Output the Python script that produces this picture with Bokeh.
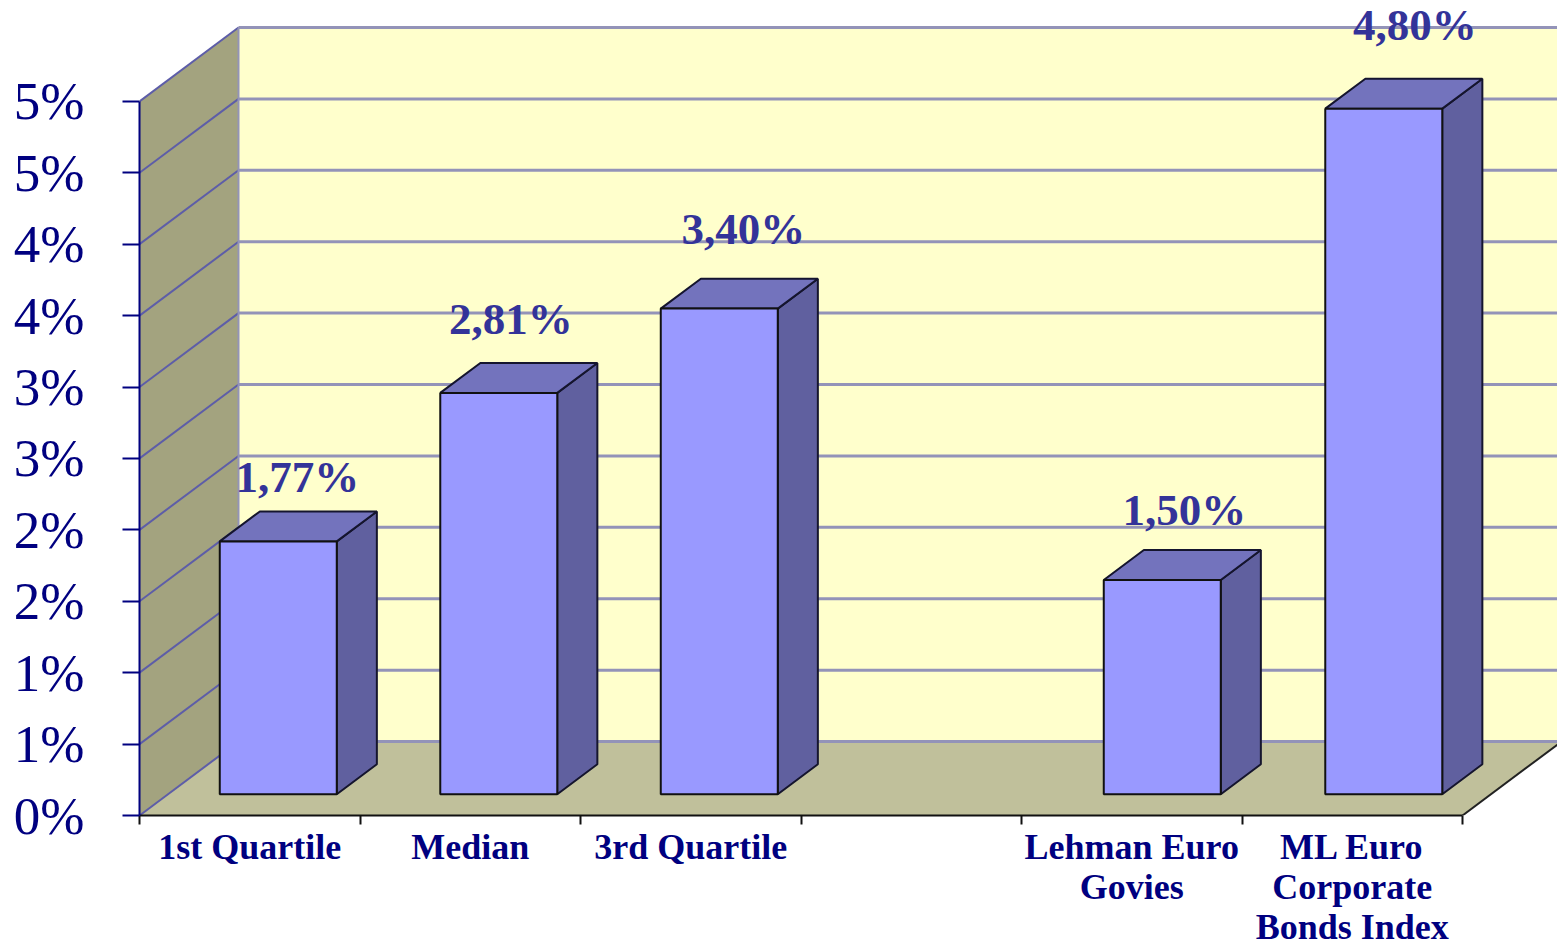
from bokeh.plotting import figure
from bokeh.models import ColumnDataSource, FixedTicker, Range1d
from bokeh.core.properties import value
from bokeh.embed import file_html
from bokeh.resources import INLINE

# ---- data ----
categories = ["1st Quartile", "Median", "3rd Quartile", "",
              "Lehman Euro\nGovies", "ML Euro\nCorporate\nBonds Index"]
bar_slots = [0, 1, 2, 4, 5]
bar_values = [1.77, 2.81, 3.40, 1.50, 4.80]
bar_labels = ["1,77%", "2,81%", "3,40%", "1,50%", "4,80%"]
y_ticks = [0, 0.5, 1, 1.5, 2, 2.5, 3, 3.5, 4, 4.5, 5]
y_tick_labels = ["0%", "1%", "1%", "2%", "2%", "3%", "3%", "4%", "4%", "5%", "5%"]

# ---- layout ----
W, H = 1557, 949
LEFT, BOTTOM = 139, 133
PX_X, PX_Y = 220.5, 143.0          # pixels per category slot / per 1%
DEPTH_X, DEPTH_Y = 99 / PX_X, 74 / PX_Y   # full depth of the chart box
N = len(categories)
YMAX = y_ticks[-1]
BAR_W = 117 / PX_X
BAR_FRONT = 0.288                  # depth fraction of the bars' front face
BAR_DEPTH = 0.405                  # depth of a bar, as fraction of the box
BAR_NUDGE = [0, 0, 0, 2, 3]        # px, slight drift of the original's bars
LABEL_DX = [19, 12, 24, 22, 31]    # px, hand-placed labels of the original
LABEL_DY = [34, 44, 50, 40, 54]    # px above the bar's top back edge

NAVY = "#000080"
p = figure(width=W, height=H, output_backend="svg", toolbar_location=None,
           x_range=Range1d(0, (W - LEFT) / PX_X),
           y_range=Range1d(0, (H - BOTTOM) / PX_Y),
           min_border_left=LEFT, min_border_bottom=BOTTOM,
           min_border_top=0, min_border_right=0, background_fill_color="white",
           outline_line_color=None)
p.grid.visible = False

# walls and floor
far = N + DEPTH_X * 1.2
p.patch([DEPTH_X, far, far, DEPTH_X],
        [DEPTH_Y, DEPTH_Y, YMAX + DEPTH_Y, YMAX + DEPTH_Y], fill_color="#FFFFCC", line_color=None)
p.patch([0, DEPTH_X, DEPTH_X, 0], [0, DEPTH_Y, YMAX + DEPTH_Y, YMAX],
        fill_color="#A3A37F", line_color=None)
p.patch([0, N, N + DEPTH_X, DEPTH_X], [0, 0, DEPTH_Y, DEPTH_Y],
        fill_color="#C0C09B", line_color=None)

# grid lines on the back and the left wall
p.multi_line([[DEPTH_X, far] for t in y_ticks], [[t + DEPTH_Y, t + DEPTH_Y] for t in y_ticks],
             line_color="#9393B8", line_width=3)
p.multi_line([[0, DEPTH_X] for t in y_ticks], [[t, t + DEPTH_Y] for t in y_ticks],
             line_color="#5D5DA8", line_width=2)
p.line([DEPTH_X, DEPTH_X], [DEPTH_Y, YMAX + DEPTH_Y], line_color="#9393B8", line_width=2)
p.line([N, N + DEPTH_X], [0, DEPTH_Y], line_color="#222222", line_width=2)

# 3D bars
fx, fy = BAR_FRONT * DEPTH_X, BAR_FRONT * DEPTH_Y
bx, by = BAR_DEPTH * DEPTH_X, BAR_DEPTH * DEPTH_Y
lefts = [s + 0.5 + fx - BAR_W / 2 + n / PX_X for s, n in zip(bar_slots, BAR_NUDGE)]
front_xs, front_ys, top_xs, top_ys, side_xs, side_ys = [], [], [], [], [], []
for x0, v in zip(lefts, bar_values):
    x1 = x0 + BAR_W
    y0, y1 = fy, fy + v
    front_xs.append([x0, x1, x1, x0]); front_ys.append([y0, y0, y1, y1])
    top_xs.append([x0, x1, x1 + bx, x0 + bx]); top_ys.append([y1, y1, y1 + by, y1 + by])
    side_xs.append([x1, x1 + bx, x1 + bx, x1]); side_ys.append([y0, y0 + by, y1 + by, y1])
p.patches(side_xs, side_ys, fill_color="#60609F", line_color="#15152E", line_width=2)
p.patches(top_xs, top_ys, fill_color="#7373BD", line_color="#15152E", line_width=2)
p.patches(front_xs, front_ys, fill_color="#9999FF", line_color="#111111", line_width=2)

# value labels
src = ColumnDataSource(dict(
    x=[x0 + BAR_W / 2 for x0 in lefts],
    y=[v + fy + by for v in bar_values],
    text=bar_labels, dx=LABEL_DX, dy=[-d for d in LABEL_DY]))
p.text("x", "y", text="text", source=src, x_offset="dx", y_offset="dy",
       text_font=value("Liberation Serif"), text_font_style="bold",
       text_font_size="45px", text_color="#333399",
       text_align="center", text_baseline="alphabetic")

# axes
ax = p.yaxis[0]
ax.ticker = FixedTicker(ticks=y_ticks)
ax.bounds = (0, YMAX)
ax.major_label_overrides = {t: s for t, s in zip(y_ticks, y_tick_labels)}
ax.major_label_text_font = "Liberation Serif"
ax.major_label_text_font_size = "53px"
ax.major_label_text_color = NAVY
ax.major_label_standoff = 38
ax.major_tick_in = 0
ax.major_tick_out = 17
ax.major_tick_line_color = NAVY
ax.major_tick_line_width = 2
ax.minor_tick_line_color = None
ax.axis_line_color = NAVY
ax.axis_line_width = 2

centers = [i + 0.5 for i in range(N)]
xa = p.xaxis[0]
xa.ticker = FixedTicker(ticks=centers, minor_ticks=list(range(N + 1)))
xa.bounds = (0, N)
xa.major_label_overrides = dict(zip(centers, categories))
xa.major_label_text_font = "Liberation Serif"
xa.major_label_text_font_style = "bold"
xa.major_label_text_font_size = "36px"
xa.major_label_text_color = NAVY
xa.major_label_text_line_height = 1.0
xa.major_label_standoff = 2
xa.major_tick_in = 0
xa.major_tick_out = 0
xa.major_tick_line_color = None
xa.minor_tick_in = 0
xa.minor_tick_out = 9
xa.minor_tick_line_color = "#111111"
xa.minor_tick_line_width = 2
xa.axis_line_color = "#111111"
xa.axis_line_width = 2

open("out.html", "w").write(file_html(p, INLINE))
